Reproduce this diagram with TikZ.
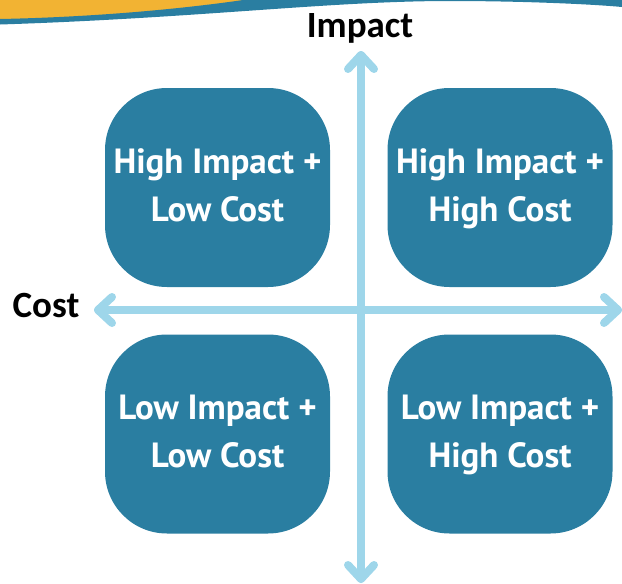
\documentclass[tikz,border=0pt]{standalone}
\usepackage{fontspec}
\usetikzlibrary{calc}
\setmainfont{PT Sans}
\newfontfamily\labelfont{Carlito}
\definecolor{boxblue}{HTML}{2A7EA1}
\definecolor{axisblue}{HTML}{9ED6EA}
\definecolor{banneryellow}{HTML}{F2B333}
\begin{document}
\begin{tikzpicture}[x=1pt,y=-1pt,
  quad/.style={fill=boxblue, rounded corners=62pt, minimum width=225pt, minimum height=199pt,
    inner sep=0pt, text=white, align=center, font=\bfseries\fontsize{35}{48}\selectfont},
  axislabel/.style={text=black, font=\labelfont\bfseries\fontsize{37}{40}\selectfont, inner sep=0pt},
  axisline/.style={draw=axisblue, line width=8pt, line cap=round, line join=round}]
\useasboundingbox (0,0) rectangle (622,584);
% banner
\fill[banneryellow] (0,-1) -- (0,22) .. controls (100,19) and (200,10) .. (265,-1) -- cycle;
\fill[boxblue] (0,19) .. controls (100,17) and (190,8) .. (250,-1) -- (622,-1) -- (622,7)
  .. controls (590,4) and (520,1) .. (450,1) .. controls (330,1) and (200,18) .. (0,24.5) -- cycle;
% axes
\coordinate (vt) at (361,55);
\coordinate (vb) at (361,579);
\coordinate (hl) at (98,310);
\coordinate (hr) at (618,310);
\draw[axisline] (vt) -- (vb);
\draw[axisline] (hl) -- (hr);
\draw[axisline] ($(vt)+(-13,14)$) -- (vt) -- ($(vt)+(13,14)$);
\draw[axisline] ($(vb)+(-13,-14)$) -- (vb) -- ($(vb)+(13,-14)$);
\draw[axisline] ($(hl)+(14,-13)$) -- (hl) -- ($(hl)+(14,13)$);
\draw[axisline] ($(hr)+(-14,-13)$) -- (hr) -- ($(hr)+(-14,13)$);
% quadrants
\node[quad] (tl) at (217.5,187.5) {High Impact +\strut\\Low Cost\strut};
\node[quad] (tr) at (500,187.5) {High Impact +\strut\\High Cost\strut};
\node[quad] (bl) at (217.5,434) {Low Impact +\strut\\Low Cost\strut};
\node[quad] (br) at (500,434) {Low Impact +\strut\\High Cost\strut};
% labels
\node[axislabel] (impact) at (360,28) {Impact};
\node[axislabel] (cost) at (46,305) {Cost};
\end{tikzpicture}
\end{document}
